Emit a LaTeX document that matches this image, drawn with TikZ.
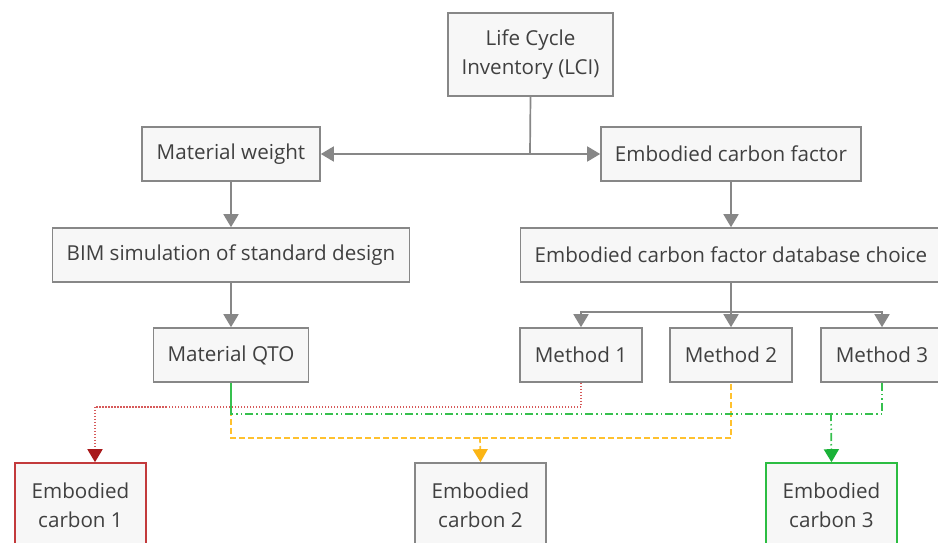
\documentclass[tikz,border=0pt]{standalone}
\usepackage{fontspec}
\setmainfont{Open Sans}
\usepackage{tikz}
\usepackage{color,xcolor}
\usetikzlibrary{arrows.meta}
\definecolor{gr}{HTML}{878787}
\definecolor{bx}{HTML}{F7F7F7}
\definecolor{tx}{HTML}{404040}
\definecolor{rd}{HTML}{D65A5A}
\definecolor{rdk}{HTML}{A8191B}
\definecolor{rdb}{HTML}{C33A3C}
\definecolor{yl}{HTML}{FFC12E}
\definecolor{ylk}{HTML}{FBB514}
\definecolor{gn}{HTML}{36C04E}
\definecolor{gnk}{HTML}{1AB238}
\definecolor{gnb}{HTML}{2CBD42}

\begin{document}
\begin{tikzpicture}[x=1pt,y=-1pt,
    box/.style={draw=gr,fill=bx,line width=1.6pt,text=tx,font=\fontsize{20.6}{29}\selectfont,align=center,minimum height=54pt,inner sep=0pt},
    arr/.style={draw=gr,line width=1.7pt,-{Triangle[width=15pt,length=13pt]}},
    redline/.style={draw=rd,line width=1.7pt,dash pattern=on 1.5pt off 1.5pt,-{Triangle[width=15pt,length=13pt,color=rdk]}},
    yelline/.style={draw=yl,line width=1.7pt,dash pattern=on 6pt off 3pt,-{Triangle[width=15pt,length=13pt,color=ylk]}},
    grnline/.style={draw=gn,line width=1.7pt,dash pattern=on 8pt off 3pt on 1.5pt off 3pt on 1.5pt off 3pt,-{Triangle[width=15pt,length=13pt,color=gnk]}}]
            \useasboundingbox (0,0) rectangle (938,543);
            \clip (0,0) rectangle (938,543);
            \node[box,minimum width=165pt,minimum height=83pt] (lci) at (530.5,54.5) {Life Cycle\\Inventory (LCI)};
            \node[box,minimum width=178pt] (mw) at (231,154) {Material weight};
            \node[box,minimum width=260pt] (ecf) at (731,154) {Embodied carbon factor};
            \node[box,minimum width=357pt] (bim) at (231,255) {BIM simulation of standard design};
            \node[box,minimum width=421pt] (db) at (731,255) {Embodied carbon factor database choice};
            \node[box,minimum width=155pt] (qto) at (231,355) {Material QTO};
            \node[box,minimum width=122pt] (m1) at (581,355) {Method 1};
            \node[box,minimum width=122pt] (m2) at (731,355) {Method 2};
            \node[box,minimum width=122pt] (m3) at (882,355) {Method 3};
            \node[box,draw=rdb,minimum width=131pt,minimum height=84pt] (ec1) at (80.5,505) {Embodied\\carbon 1};
            \node[box,minimum width=131pt,minimum height=84pt] (ec2) at (480.5,505) {Embodied\\carbon 2};
            \node[box,draw=gnb,minimum width=131pt,minimum height=84pt] (ec3) at (831.5,505) {Embodied\\carbon 3};
            \coordinate (lcij) at (530,154);
            \coordinate (dbj) at (731,312);
            \coordinate (ybus) at (480,437);
            \coordinate (gbus) at (831,413);
            \draw[draw=gr,line width=1.7pt] (lci.south) -- (lcij);
            \draw[arr] (lcij) -- (mw.east);
            \draw[arr] (lcij) -- (ecf.west);
            \draw[arr] (mw) -- (bim);
            \draw[arr] (bim) -- (qto);
            \draw[arr] (ecf) -- (db);
            \draw[draw=gr,line width=1.7pt] (db.south) -- (dbj);
            \draw[arr] (dbj) -| (m1.north);
            \draw[arr] (dbj) -- (m2.north);
            \draw[arr] (dbj) -| (m3.north);
            \draw[redline] (m1.south) -- ++(0,24) -| ([xshift=14.5pt]ec1.north);
            \draw[yelline,-] (qto.south) -- ++(0,55) -| (m2.south);
            \draw[yelline] (ybus) -- (ec2.north);
            \draw[grnline,-] (m3.south) -- ++(0,31) -| (qto.south);
            \draw[draw=gn,line width=1.7pt] (qto.south) -- ++(0,31);
            \draw[grnline] (gbus) -- (ec3.north);
          \end{tikzpicture}
\end{document}
